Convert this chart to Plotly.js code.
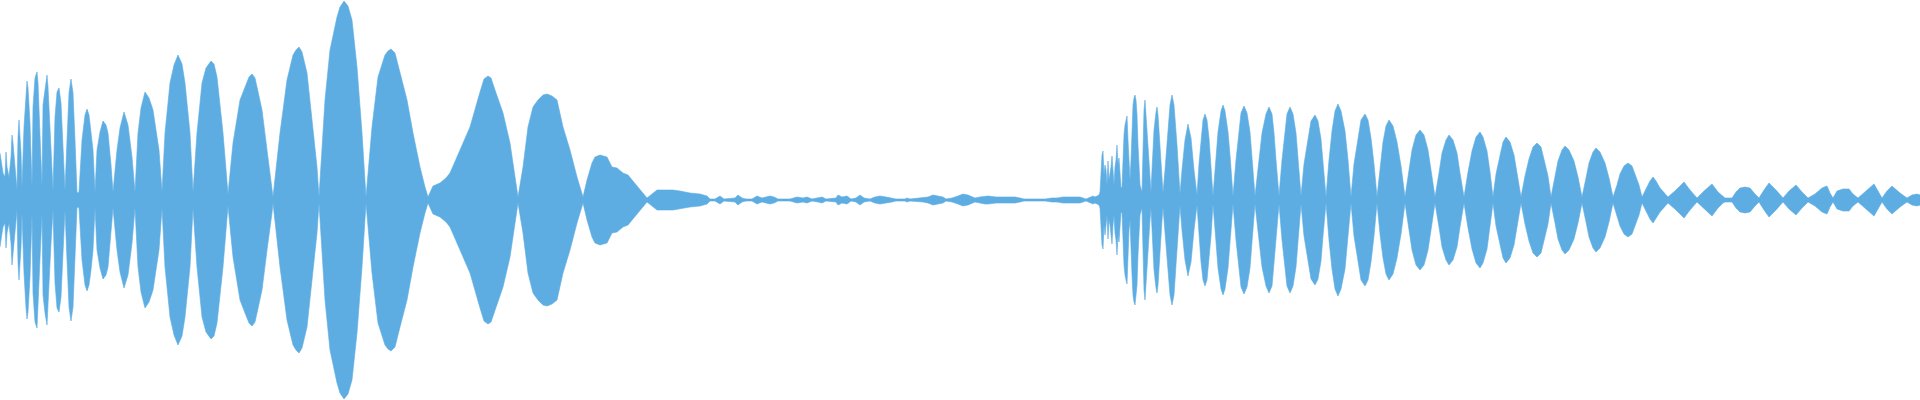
<!DOCTYPE html>
<html>
<head>
<meta charset="utf-8">
<script src="https://cdn.plot.ly/plotly-3.0.1.min.js"></script>
<style>html,body{margin:0;padding:0;background:#fff;}#chart{width:1920px;height:400px;}</style>
</head>
<body>
<div id="chart"></div>
<script>
// ---- First burst: sample index and envelope amplitude ----
const burst1Index = [
  0,2,3,5,6,7,9,11,12,13,15,17,18,19,21,22,24,26,27,28,30,32,33,35,37,38,40,42,43,45,47,48,51,53,55,57,59,61,63,65,67,69,71,73,75,77,
  79,82,85,87,89,91,93,
  95,97,100,103,106,108,111,
  113,117,120,124,128,132,
  135,138,141,145,149,153,159,
  162,165,170,174,178,182,185,190,
  193,197,202,206,211,214,217,223,
  228,233,240,245,249,252,255,257,262,267,272,
  273,280,287,293,296,299,302,307,312,317,
  319,325,330,337,340,344,348,352,357,362,
  366,372,378,385,388,391,395,400,407,413,420,425,
  428,433,440,446,450,460,470,480,484,488,491,495,503,510,515,
  518,523,528,533,538,543,547,552,557,563,570,577,
  583,587,592,595,600,607,612,617,623,628,635,642,647
];
const burst1Amp = [
  47,33,27,23,48,33,23,43,65,57,33,10,63,80,47,13,73,108,119,112,77,13,93,122,128,117,57,13,95,113,125,113,43,10,83,108,112,97,53,10,60,107,121,107,60,7,
  8,60,85,91,85,70,50,
  8,50,68,79,75,67,35,
  8,50,72,88,75,43,
  8,67,92,108,102,90,50,
  8,67,117,135,145,136,117,67,
  8,67,117,132,139,136,123,67,
  6,57,100,113,123,126,122,113,90,50,13,
  3,67,120,145,150,153,148,127,83,33,
  3,100,150,183,193,199,194,180,133,67,
  3,73,123,145,149,151,147,127,100,67,33,13,
  3,14,17,22,27,50,73,108,121,124,122,110,87,57,23,
  3,33,73,93,100,105,106,104,100,73,50,23,
  3,20,37,43,45,43,33,32,27,25,17,8,2
];

// ---- Quiet stretch ----
const quietIndex = [
  652,657,665,673,680,690,700,707,710,715,720,724,735,738,742,746,752,757,762,766,770,774,778,790,797,803,807,812,818,822,826,
  836,838,842,847,851,856,860,864,870,875,880,886,892,896,905,907,910,923,928,933,938,943,946,952,958,963,968,975,980,985,988,
  996,1000,1005,1010,1015,1020,1024,1035,1045,1052,1057,1063,1070,1076,1080,1086,1090,1093,1095,1097,1099,1100
];
const quietAmp = [
  6,10,10,10,9,7,6,4,1,1,4,1,2,5,2,1,1,4,2,3,4,3,1,1,3,2,3,1,2,3,1,
  2,5,3,4,1,2,5,2,1,3,4,3,2,1,1,2,1,2,3,5,4,3,1,2,4,6,5,2,3,4,4,
  3,3,3,3,3,2,1,1,1,2,2,3,3,3,3,1,3,4,3,4,5,8
];

// ---- Second burst ----
const burst2Index = [
  1101,1102,1103,1104,1105,1106,1107,1108,1109,1110,1111,1112,1113,1114,1115,1116,1117,1118,1119,1120,1121,1122,
  1123,1124,1125,1126,1127,1128,1129,1130,1131,1132,1133,1134,1135,1136,1137,1138,1139,1140,1142,
  1143,1144,1145,1146,1148,1150,1151,1152,1154,1156,1157,1158,1160,1162,1163,
  1165,1168,1170,1172,1174,1177,1179,1180,1182,1185,1188,1191,1194,1197,
  1199,1201,1203,1205,1207,1209,1211,1213,
  1216,1218,1221,1223,1225,1228,1230,1233,
  1236,1239,1241,1244,1247,1250,1252,1255,
  1259,1262,1266,1269,1272,1274,1276,1279,
  1282,1285,1287,1290,1293,1296,1298,1301,
  1304,1308,1311,1315,1318,1321,1323,1326,
  1329,1332,1335,1338,1341,1345,1348,1351,
  1354,1358,1361,1365,1368,1371,1374,1377,
  1380,1383,1386,1389,1393,1397,1401,1405,
  1409,1412,1416,1420,1424,1428,1431,1435,
  1439,1442,1446,1449,1453,1457,1460,1464,
  1468,1472,1476,1480,1483,1487,1490,1493,
  1496,1500,1503,1506,1510,1514,1517,1521,
  1525,1529,1533,1537,1541,1544,1548,1551,
  1555,1558,1562,1565,1569,1574,1578,1582,
  1586,1589,1593,1596,1600,1605,1609,1613,
  1617,1620,1624,1628,1632,1635,1639,1642,
  1647,1650,1653,1656,1660,1668,
  1676,1684,1690,1697,
  1704,1712,1718,1723,1725,1727,1732,
  1736,1740,1745,1750,1755,1759,
  1764,1769,1776,1783,
  1789,1796,1802,1808,
  1815,1822,1827,1830,1833,
  1837,1843,1849,1853,1858,
  1866,1874,1878,1882,
  1887,1892,1900,1907,
  1912,1917,1920
];
const burst2Amp = [
  30,45,49,25,35,30,15,39,20,25,33,44,25,15,33,40,55,35,42,25,12,13,
  45,65,75,80,84,60,30,20,40,75,95,102,105,100,85,55,30,15,8,
  50,90,100,85,50,20,8,30,70,88,93,85,55,20,7,
  30,70,95,105,95,55,20,6,30,60,76,62,30,5,
  36,62,80,86,80,62,36,4,
  42,68,89,95,89,68,45,4,
  40,68,87,94,87,68,42,4,
  40,67,86,93,86,67,40,4,
  40,67,86,93,86,67,40,4,
  36,61,79,85,79,61,36,3,
  40,69,89,96,89,69,40,3,
  36,62,80,86,80,62,36,3,
  34,58,74,80,74,58,34,3,
  30,50,65,70,65,50,30,3,
  27,47,60,65,60,47,27,3,
  28,49,63,68,63,49,28,3,
  26,45,58,63,58,45,26,3,
  24,41,53,57,53,41,24,3,
  23,39,50,54,50,39,23,3,
  22,37,48,52,48,37,22,3,
  15,26,34,37,34,26,15,3,
  13,19,23,19,12,3,
  10,18,10,2,
  9,16,8,3,2,2,2,
  8,12,13,12,6,2,
  10,17,10,2,
  9,15,8,2,
  6,12,14,7,2,
  9,11,11,6,2,
  9,16,9,2,
  9,14,7,2,
  5,6,5
];
const waveColor = '#5DADE2';

const sampleIndex = burst1Index.concat(quietIndex, burst2Index);
const amplitude = burst1Amp.concat(quietAmp, burst2Amp);
if (sampleIndex.length !== amplitude.length) console.error('length mismatch', sampleIndex.length, amplitude.length);

const xs = sampleIndex.concat(sampleIndex.slice().reverse());
const ys = amplitude.map(a => Math.max(a, 0.5))
  .concat(amplitude.slice().reverse().map(a => -Math.max(a, 0.5)));

Plotly.newPlot('chart', [{
  type: 'scatter',
  mode: 'lines',
  x: xs,
  y: ys,
  fill: 'toself',
  fillcolor: waveColor,
  line: {color: waveColor, width: 0.6},
  hoverinfo: 'skip'
}], {
  width: 1920,
  height: 400,
  margin: {l: 0, r: 0, t: 0, b: 0, pad: 0},
  paper_bgcolor: '#ffffff',
  plot_bgcolor: '#ffffff',
  showlegend: false,
  xaxis: {range: [0, 1920], visible: false, showgrid: false, zeroline: false, fixedrange: true},
  yaxis: {range: [-200, 200], visible: false, showgrid: false, zeroline: false, fixedrange: true}
}, {staticPlot: true, displayModeBar: false});
</script>
</body>
</html>
